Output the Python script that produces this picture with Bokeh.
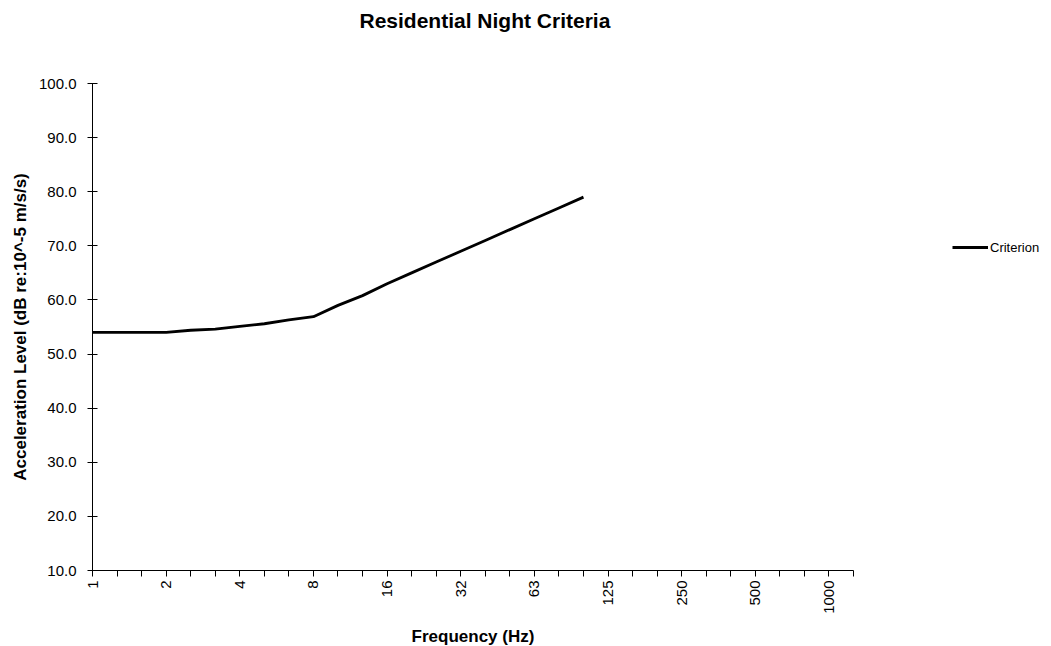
import math
from bokeh.plotting import figure
from bokeh.models import (FixedTicker, NumeralTickFormatter, Range1d, Legend,
                          LegendItem, ColumnDataSource, Title)
from bokeh.embed import file_html
from bokeh.resources import INLINE

# ---- data ----
bands = ["1", "1.25", "1.6", "2", "2.5", "3.15", "4", "5", "6.3", "8", "10",
         "12.5", "16", "20", "25", "32", "40", "50", "63", "80", "100", "125",
         "160", "200", "250", "315", "400", "500", "630", "800", "1000", "1250"]
shown_labels = ["1", "2", "4", "8", "16", "32", "63", "125", "250", "500", "1000"]
criterion = [54.0, 54.0, 54.0, 54.0, 54.4, 54.6, 55.1, 55.6, 56.3, 56.9, 59.0,
             60.8, 63.0, 65.0, 67.0, 69.0, 71.0, 73.0, 75.0, 77.0, 79.0]
y_ticks = [10, 20, 30, 40, 50, 60, 70, 80, 90, 100]
chart_title = "Residential Night Criteria"

FONT = "Liberation Sans"

xs = [bands.index(b) for b in bands[:len(criterion)]]
src = ColumnDataSource(dict(x=xs, y=criterion))

p = figure(width=1043, height=646, output_backend="svg", toolbar_location=None,
           x_range=Range1d(0, len(bands) - 1), y_range=Range1d(10, 100),
           min_border_left=92, min_border_right=190, min_border_top=83,
           min_border_bottom=76, frame_width=761, frame_height=487)
p.outline_line_color = None
p.grid.visible = False
p.background_fill_color = "white"
p.border_fill_color = "white"

# spacer panel between frame and title (closest to the frame)
p.add_layout(Title(text=" ", text_font_size="10px", standoff=37), "above")
# the actual title
p.add_layout(Title(text=chart_title, text_font=FONT, text_font_size="21px",
                   text_font_style="bold", align="left", offset=267,
                   vertical_align="top", standoff=0, text_color="black"), "above")

r = p.line("x", "y", source=src, line_color="black", line_width=2.8)

# x axis
xa = p.xaxis[0]
xa.ticker = FixedTicker(ticks=list(range(len(bands))), minor_ticks=[])
xa.major_label_overrides = {i: (b if b in shown_labels else "") for i, b in enumerate(bands)}
xa.major_label_orientation = math.pi / 2
xa.major_label_text_font = FONT
xa.major_label_text_font_size = "15px"
xa.major_label_text_color = "black"
xa.major_tick_in = 0
xa.major_tick_out = 6
xa.minor_tick_line_color = None
xa.axis_line_color = "black"
xa.major_tick_line_color = "black"
xa.major_label_standoff = 4
xa.axis_label = "Frequency (Hz)"
xa.axis_label_text_font = FONT
xa.axis_label_text_font_size = "17px"
xa.axis_label_text_font_style = "bold"
xa.axis_label_text_color = "black"
xa.axis_label_standoff = 10

# y axis
ya = p.yaxis[0]
ya.ticker = FixedTicker(ticks=y_ticks, minor_ticks=[])
ya.formatter = NumeralTickFormatter(format="0.0")
ya.major_label_text_font = FONT
ya.major_label_text_font_size = "15px"
ya.major_label_text_color = "black"
ya.major_tick_in = 5
ya.major_tick_out = 5
ya.minor_tick_line_color = None
ya.axis_line_color = "black"
ya.major_tick_line_color = "black"
ya.major_label_standoff = 11
ya.axis_label = "Acceleration Level (dB re:10^-5 m/s/s)"
ya.axis_label_text_font = FONT
ya.axis_label_text_font_size = "17px"
ya.axis_label_text_font_style = "bold"
ya.axis_label_text_color = "black"
ya.axis_label_standoff = 6

legend = Legend(items=[LegendItem(label="Criterion", renderers=[r])],
                location=(99, 313), orientation="vertical",
                border_line_color=None, background_fill_alpha=0,
                padding=0, margin=0, glyph_width=36, label_standoff=2,
                label_text_font=FONT, label_text_font_size="13px",
                label_text_color="black")
p.add_layout(legend, "right")

open("out.html", "w").write(file_html(p, INLINE))
